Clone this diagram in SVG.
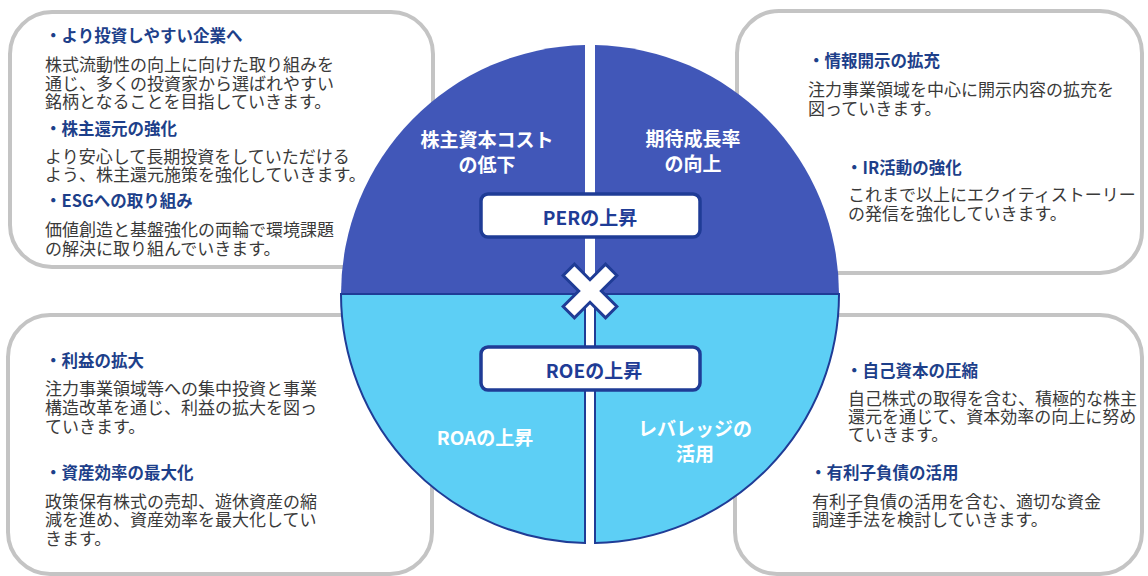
<svg xmlns="http://www.w3.org/2000/svg" width="1148" height="576" viewBox="0 0 1148 576">
<style>
.box{fill:#fff;stroke:#c4c4c4;stroke-width:4}
.h{font-family:"Noto Sans CJK JP","Noto Sans",sans-serif;font-size:16.5px;font-weight:bold;fill:#1d3f8a;dominant-baseline:central}
.b{font-family:"Noto Sans CJK JP","Noto Sans",sans-serif;font-size:17px;fill:#3a3a3a;dominant-baseline:central}
.w{font-family:"Noto Sans CJK JP","Noto Sans",sans-serif;font-size:19px;font-weight:bold;fill:#fff;text-anchor:middle;dominant-baseline:central}
.tag{fill:#fff;stroke:#1f3c96;stroke-width:3.5}
.tt{font-family:"Noto Sans CJK JP","Noto Sans",sans-serif;font-size:19px;font-weight:bold;fill:#1f3c96;text-anchor:middle;dominant-baseline:central}
.dark{fill:#4157b8}
.light{fill:#5dcff5;stroke:#1f3c96;stroke-width:2}
</style>
<rect width="1148" height="576" fill="#fff"/>
<g id="box-top-left">
<rect class="box" x="10" y="12" width="423" height="255" rx="42"/>
<text class="h" x="45" y="35">・より投資しやすい企業へ</text>
<text class="b" x="45" y="63">株式流動性の向上に向けた取り組みを</text>
<text class="b" x="45" y="82">通じ、多くの投資家から選ばれやすい</text>
<text class="b" x="45" y="100">銘柄となることを目指していきます。</text>
<text class="h" x="45" y="128">・株主還元の強化</text>
<text class="b" x="45" y="155">より安心して長期投資をしていただける</text>
<text class="b" x="45" y="173">よう、株主還元施策を強化していきます。</text>
<text class="h" x="45" y="200">・ESGへの取り組み</text>
<text class="b" x="45" y="228">価値創造と基盤強化の両輪で環境課題</text>
<text class="b" x="45" y="247">の解決に取り組んでいきます。</text>
</g>
<g id="box-top-right">
<rect class="box" x="737" y="11" width="405" height="262" rx="42"/>
<text class="h" x="808" y="60">・情報開示の拡充</text>
<text class="b" x="808" y="88">注力事業領域を中心に開示内容の拡充を</text>
<text class="b" x="808" y="107">図っていきます。</text>
<text class="h" x="846" y="167">・IR活動の強化</text>
<text class="b" x="848" y="193">これまで以上にエクイティストーリー</text>
<text class="b" x="848" y="212">の発信を強化していきます。</text>
</g>
<g id="box-bottom-left">
<rect class="box" x="8" y="315" width="424" height="259" rx="42"/>
<text class="h" x="45" y="360">・利益の拡大</text>
<text class="b" x="45" y="387">注力事業領域等への集中投資と事業</text>
<text class="b" x="45" y="406">構造改革を通じ、利益の拡大を図っ</text>
<text class="b" x="45" y="425">ていきます。</text>
<text class="h" x="45" y="472">・資産効率の最大化</text>
<text class="b" x="45" y="500">政策保有株式の売却、遊休資産の縮</text>
<text class="b" x="45" y="518">減を進め、資産効率を最大化してい</text>
<text class="b" x="45" y="537">きます。</text>
</g>
<g id="box-bottom-right">
<rect class="box" x="735" y="315" width="407" height="259" rx="42"/>
<text class="h" x="846" y="370">・自己資本の圧縮</text>
<text class="b" x="848" y="397">自己株式の取得を含む、積極的な株主</text>
<text class="b" x="848" y="415">還元を通じて、資本効率の向上に努め</text>
<text class="b" x="848" y="433">ていきます。</text>
<text class="h" x="810" y="472">・有利子負債の活用</text>
<text class="b" x="812" y="500">有利子負債の活用を含む、適切な資金</text>
<text class="b" x="812" y="518">調達手法を検討していきます。</text>
</g>
<g id="circle">
<g id="q-top-left">
<path class="dark" d="M585,294 H341 A249,249 0 0 1 585,45 Z"/>
<text class="w" x="487" y="138">株主資本コスト</text>
<text class="w" x="487" y="163">の低下</text>
</g>
<g id="q-top-right">
<path class="dark" d="M595,45 A249,249 0 0 1 839,294 H595 Z"/>
<text class="w" x="693" y="137">期待成長率</text>
<text class="w" x="693" y="162">の向上</text>
</g>
<g id="q-bottom-left">
<path class="light" d="M341,294 H585 V543 A249,249 0 0 1 341,294 Z"/>
<text class="w" x="485" y="436">ROAの上昇</text>
</g>
<g id="q-bottom-right">
<path class="light" d="M595,294 H839 A249,249 0 0 1 595,543 Z"/>
<text class="w" x="695" y="427">レバレッジの</text>
<text class="w" x="695" y="452">活用</text>
</g>
</g>
<g id="per">
<rect class="tag" x="481" y="194" width="219" height="43" rx="7"/>
<text class="tt" x="590" y="216">PERの上昇</text>
</g>
<g id="roe">
<rect class="tag" x="481" y="347" width="219" height="43" rx="7"/>
<text class="tt" x="594" y="369">ROEの上昇</text>
</g>
<g id="cross">
<polygon points="8,-30 8,-8 30,-8 30,8 8,8 8,30 -8,30 -8,8 -30,8 -30,-8 -8,-8 -8,-30" transform="translate(590,291) rotate(45)" fill="#fff" stroke="#1f3c96" stroke-width="3" stroke-linejoin="miter"/>
</g>
</svg>
